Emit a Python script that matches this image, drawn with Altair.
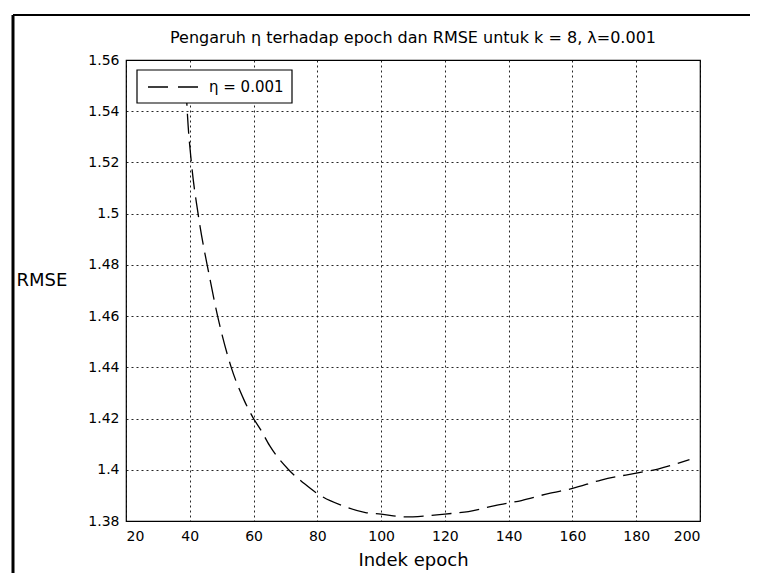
import altair as alt
import pandas as pd

# --- data ---
epochs = [38.8, 39.3, 40.5, 42.6, 46.2, 48.8, 53.0, 57.1, 60.0, 62.3, 65.0, 71.0,
          76.0, 80.0, 87.8, 95.1, 100.0, 107.6, 113.9, 120.0, 127.4, 135.7, 144.0,
          152.4, 160.0, 169.0, 180.0, 186.8, 196.7]
rmse = [1.550, 1.538, 1.520, 1.500, 1.4753, 1.4596, 1.440, 1.427, 1.420, 1.4155,
        1.4095, 1.400, 1.3945, 1.3907, 1.386, 1.3833, 1.3827, 1.3816, 1.382, 1.3827,
        1.3837, 1.386, 1.388, 1.3907, 1.3927, 1.396, 1.3987, 1.4003, 1.404]
series_label = "η = 0.001"
x_ticks = [20, 40, 60, 80, 100, 120, 140, 160, 180, 200]
y_ticks = [1.38, 1.40, 1.42, 1.44, 1.46, 1.48, 1.50, 1.52, 1.54, 1.56]
title_text = "Pengaruh η terhadap epoch dan RMSE untuk k = 8, λ=0.001"
x_title = "Indek epoch"
y_title = "RMSE"

FONT = "DejaVu Sans"
W, H = 574, 461

df = pd.DataFrame({"epoch": epochs, "rmse": rmse, "series": series_label})
leg = pd.DataFrame({"label": [series_label], "title": [title_text]})

x_enc = alt.X(
    "epoch:Q",
    scale=alt.Scale(domain=[20, 200], nice=False, zero=False),
    axis=alt.Axis(
        values=x_ticks, title=x_title, grid=True, ticks=False, domain=False,
        labelPadding=8, titleX=W / 2, titleY=39, titleBaseline="middle",
        titleFontSize=18, titleFontWeight="normal",
    ),
)
y_enc = alt.Y(
    "rmse:Q",
    scale=alt.Scale(domain=[1.38, 1.56], nice=False, zero=False),
    axis=alt.Axis(
        values=y_ticks, format=".2~f", title=y_title, grid=True, ticks=False,
        domain=False, labelPadding=7, titleAngle=0, titleAlign="left",
        titleBaseline="middle", titleX=-110, titleY=220, titleFontSize=18,
        titleFontWeight="normal",
    ),
)

line = alt.Chart(df).mark_line(
    color="black", strokeWidth=1.3, strokeDash=[20, 8], interpolate="monotone"
).encode(x=x_enc, y=y_enc)

# chart title (drawn as text so the outer frame lines do not push it away)
title_mark = alt.Chart(leg).mark_text(
    align="center", baseline="alphabetic", font=FONT, fontSize=16, color="black"
).encode(x=alt.value(W / 2), y=alt.value(-17), text="title:N")

# legend box (MATLAB style, top-left inside plot)
leg_box = alt.Chart(leg).mark_rect(fill="white", stroke="black", strokeWidth=1.2).encode(
    x=alt.value(11), x2=alt.value(166), y=alt.value(10), y2=alt.value(43)
)
leg_line = alt.Chart(leg).mark_rule(color="black", strokeWidth=1.3, strokeDash=[20, 10]).encode(
    x=alt.value(22), x2=alt.value(74), y=alt.value(27)
)
leg_text = alt.Chart(leg).mark_text(
    align="left", baseline="middle", font=FONT, fontSize=15, color="black"
).encode(x=alt.value(83), y=alt.value(27), text="label:N")

# outer figure frame lines (scan border)
frame_left = alt.Chart(leg).mark_rule(color="black", strokeWidth=3).encode(
    x=alt.value(-113), y=alt.value(-45), y2=alt.value(H + 52)
)
frame_top = alt.Chart(leg).mark_rule(color="black", strokeWidth=2).encode(
    x=alt.value(-113), x2=alt.value(630), y=alt.value(-45)
)

chart = alt.layer(
    line, leg_box, leg_line, leg_text, title_mark, frame_left, frame_top
).properties(
    width=W,
    height=H,
    autosize=alt.AutoSizeParams(type="none"),
    padding={"left": 118, "top": 52, "right": 50, "bottom": 52},
    background="white",
).configure_view(
    stroke="black", strokeWidth=1.2
).configure_axis(
    labelFont=FONT, labelFontSize=14, labelColor="black",
    titleFont=FONT, titleColor="black",
    gridColor="black", gridDash=[2, 3], gridWidth=1, gridOpacity=0.85,
)

chart.save("out.html", embed_options={"renderer": "svg", "actions": False})
